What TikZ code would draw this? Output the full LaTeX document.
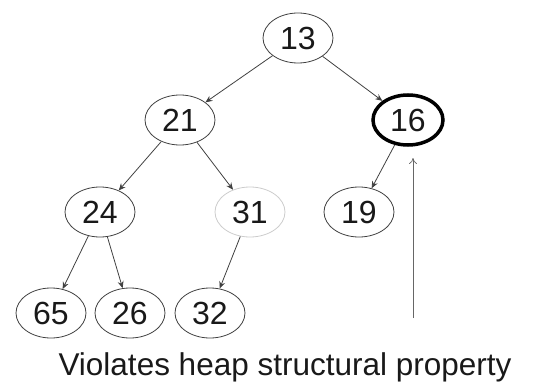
\documentclass[tikz,border=0pt]{standalone}
\usepackage{fontspec}
\setmainfont{Liberation Sans}
\usetikzlibrary{arrows.meta,shapes.geometric}
\begin{document}
\begin{tikzpicture}[x=1pt,y=-1pt,
  hnode/.style={draw=black!75, ellipse, line width=0.8pt, minimum width=70pt, minimum height=50pt, inner sep=0pt, font=\fontsize{32}{32}\selectfont, text=black!90},
  edge/.style={draw=black!75, line width=0.8pt, -{Stealth[length=7pt,width=6pt]}}]
\useasboundingbox (0,0) rectangle (546,385);
\node[hnode] (n13) at (298,38) {13};
\node[hnode] (n21) at (180,120) {21};
\node[hnode, line width=3.5pt, draw=black] (n16) at (408,120) {16};
\node[hnode] (n24) at (100,212) {24};
\node[hnode, draw=black!20] (n31) at (250,212) {31};
\node[hnode] (n19) at (359,212) {19};
\node[hnode] (n65) at (51,313) {65};
\node[hnode] (n26) at (130,313) {26};
\node[hnode] (n32) at (210,313) {32};
\draw[edge] (n13) -- (n21);
\draw[edge] (n13) -- (n16);
\draw[edge] (n21) -- (n24);
\draw[edge] (n21) -- (n31);
\draw[edge] (n16) -- (n19);
\draw[edge] (n24) -- (n65);
\draw[edge] (n24) -- (n26);
\draw[edge] (n31) -- (n32);
\coordinate (abot) at (413,318);
\coordinate (atop) at (413,158);
\draw[black!60, line width=0.7pt, -{To[length=6pt,width=8pt]}] (abot) -- (atop);
\node[font=\fontsize{31.5}{31.5}\selectfont, text=black!90, anchor=base] (lbl) at (285,375) {Violates heap structural property};
\end{tikzpicture}
\end{document}
